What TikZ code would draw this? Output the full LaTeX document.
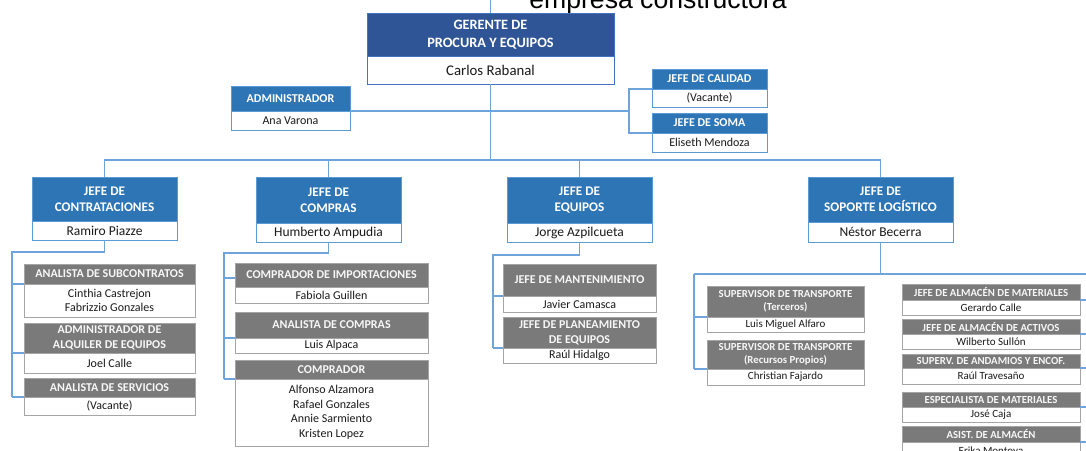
\documentclass[tikz,border=0pt]{standalone}
\usepackage{fontspec}
\setmainfont{Carlito}
\newfontfamily\titlefont{Liberation Sans}
\definecolor{gerfill}{HTML}{2F5597}
\definecolor{gerline}{HTML}{4472C4}
\definecolor{jefefill}{HTML}{2E75B6}
\definecolor{jefeline}{HTML}{5B9BD5}
\definecolor{grayfill}{HTML}{7A7A7A}
\definecolor{grayline}{HTML}{A5A5A5}
\definecolor{linkblue}{HTML}{6FA3DC}
\definecolor{ink}{HTML}{1A1A1A}
\tikzset{
  every node/.style={inner sep=0pt, outer sep=0pt, align=center},
  hd/.style 2 args={anchor=north west, minimum width=#1, minimum height=#2, line width=0.8pt},
  bd/.style 2 args={anchor=north, minimum width=#1, minimum height=#2, fill=white, line width=0.8pt, text=ink},
  ger/.style={fill=gerfill, draw=gerline, text=white, font=\bfseries\fontsize{14.3}{18}\selectfont},
  gerbody/.style={draw=gerline, font=\fontsize{14.8}{18}\selectfont},
  jefe/.style={fill=jefefill, draw=jefeline, text=white, font=\bfseries\fontsize{13.2}{16}\selectfont},
  jefebody/.style={draw=jefeline, font=\fontsize{13.5}{16}\selectfont},
  aux/.style={fill=jefefill, draw=jefeline, text=white, font=\bfseries\fontsize{12}{15}\selectfont},
  auxbody/.style={draw=jefeline, font=\fontsize{12}{15}\selectfont},
  cargo/.style={fill=grayfill, draw=grayline, text=white!94!gray},
  cargobody/.style={draw=grayline},
  fL/.style={font=\bfseries\fontsize{12}{15}\selectfont},
  nL/.style={font=\fontsize{12}{14.5}\selectfont},
  fS/.style={font=\bfseries\fontsize{10.8}{12.5}\selectfont},
  nS/.style={font=\fontsize{11}{13}\selectfont},
  wire/.style={draw=linkblue, line width=1.2pt},
}
\begin{document}
\begin{tikzpicture}[x=1pt, y=-1pt]
\useasboundingbox (0,0) rectangle (1086,450);
\clip (0,0) rectangle (1086,450);

% heading (partly cut at the top edge)
\node[font=\titlefont\fontsize{26.6}{30}\selectfont, anchor=base] (title) at (658,8) {empresa constructora};

% ---- top manager ----
\node[ger, hd={247}{43}] (gerH) at (367,13) {GERENTE DE\\PROCURA Y EQUIPOS};
\node[gerbody, bd={247}{28}] (gerB) at (gerH.south) {Carlos Rabanal};

% ---- staff positions ----
\node[aux, hd={119}{25}] (admH) at (231,86) {ADMINISTRADOR};
\node[auxbody, bd={119}{19}] (admB) at (admH.south) {Ana Varona};
\node[aux, hd={115}{20}] (calH) at (652,69) {JEFE DE CALIDAD};
\node[auxbody, bd={115}{18}] (calB) at (calH.south) {(Vacante)};
\node[aux, hd={115}{20}] (somaH) at (652,113) {JEFE DE SOMA};
\node[auxbody, bd={115}{19}] (somaB) at (somaH.south) {Eliseth Mendoza};

% ---- department heads ----
\node[jefe, hd={145}{44}] (contH) at (32,177) {JEFE DE\\CONTRATACIONES};
\node[jefebody, bd={145}{19}] (contB) at (contH.south) {Ramiro Piazze};
\node[jefe, hd={145}{46}] (compH) at (256,177) {JEFE DE\\COMPRAS};
\node[jefebody, bd={145}{19}] (compB) at (compH.south) {Humberto Ampudia};
\node[jefe, hd={145}{46}] (equH) at (507,177) {JEFE DE\\EQUIPOS};
\node[jefebody, bd={145}{19}] (equB) at (equH.south) {Jorge Azpilcueta};
\node[jefe, hd={145}{45}] (sopH) at (808,177) {JEFE DE\\SOPORTE LOGÍSTICO};
\node[jefebody, bd={145}{20}] (sopB) at (sopH.south) {Néstor Becerra};

% ---- contrataciones ----
\node[cargo, fL, hd={171}{20}] (subH) at (24,264) {ANALISTA DE SUBCONTRATOS};
\node[cargobody, nL, bd={171}{33}] (subB) at (subH.south) {Cinthia Castrejon\\Fabrizzio Gonzales};
\node[cargo, fL, hd={171}{30}] (alqH) at (24,323) {ADMINISTRADOR DE\\ALQUILER DE EQUIPOS};
\node[cargobody, nL, bd={171}{20}] (alqB) at (alqH.south) {Joel Calle};
\node[cargo, fL, hd={171}{19}] (serH) at (24,378) {ANALISTA DE SERVICIOS};
\node[cargobody, nL, bd={171}{18}] (serB) at (serH.south) {(Vacante)};

% ---- compras ----
\node[cargo, fL, hd={193}{24}] (impH) at (235,263) {COMPRADOR DE IMPORTACIONES};
\node[cargobody, nL, bd={193}{16}] (impB) at (impH.south) {Fabiola Guillen};
\node[cargo, fL, hd={193}{26}] (ancH) at (235,312) {ANALISTA DE COMPRAS};
\node[cargobody, nL, bd={193}{15}] (ancB) at (ancH.south) {Luis Alpaca};
\node[cargo, fL, hd={193}{19}] (ocH) at (235,360) {COMPRADOR};
\node[cargobody, nL, bd={193}{67}] (ocB) at (ocH.south) {Alfonso Alzamora\\Rafael Gonzales\\Annie Sarmiento\\Kristen Lopez};

% ---- equipos ----
\node[cargo, fL, hd={153}{32}] (mantH) at (503,264) {JEFE DE MANTENIMIENTO};
\node[cargobody, nL, bd={153}{16}] (mantB) at (mantH.south) {Javier Camasca};
\node[cargo, fL, hd={153}{31}] (planH) at (503,317) {JEFE DE PLANEAMIENTO\\DE EQUIPOS};
\node[cargobody, nL, bd={153}{15}] (planB) at (planH.south) {Raúl Hidalgo};

% ---- soporte logistico ----
\node[cargo, fS, hd={157}{31}] (st1H) at (707,286) {SUPERVISOR DE TRANSPORTE\\(Terceros)};
\node[cargobody, nS, bd={157}{15}] (st1B) at (st1H.south) {Luis Miguel Alfaro};
\node[cargo, fS, hd={157}{29}] (st2H) at (707,340) {SUPERVISOR DE TRANSPORTE\\(Recursos Propios)};
\node[cargobody, nS, bd={157}{16}] (st2B) at (st2H.south) {Christian Fajardo};

\node[cargo, fS, hd={178}{16}] (amH) at (902,284) {JEFE DE ALMACÉN DE MATERIALES};
\node[cargobody, nS, bd={178}{15}] (amB) at (amH.south) {Gerardo Calle};
\node[cargo, fS, hd={178}{15}] (aaH) at (902,319) {JEFE DE ALMACÉN DE ACTIVOS};
\node[cargobody, nS, bd={178}{15}] (aaB) at (aaH.south) {Wilberto Sullón};
\node[cargo, fS, hd={178}{14}] (anH) at (902,354) {SUPERV. DE ANDAMIOS Y ENCOF.};
\node[cargobody, nS, bd={178}{16}] (anB) at (anH.south) {Raúl Travesaño};
\node[cargo, fS, hd={178}{15}] (esH) at (902,392) {ESPECIALISTA DE MATERIALES};
\node[cargobody, nS, bd={178}{15}] (esB) at (esH.south) {José Caja};
\node[cargo, fS, hd={178}{16}] (asH) at (902,426) {ASIST. DE ALMACÉN};
\node[cargobody, nS, bd={178}{20}] (asB) at (asH.south) {Erika Montoya};

% ---- connectors ----
\coordinate (topend) at (490.5,0);
\coordinate (bus) at (490.5,160);
\draw[wire] (gerH.north) -- (topend);
\draw[wire] (gerB.south) -- (bus);
\draw[wire] (contH.north) |- (sopH.north |- bus) -- (sopH.north);
\draw[wire] (compH.north) -- (compH.north |- bus);
\draw[wire] (equH.north) -- (equH.north |- bus);

\coordinate (brk) at (629,111);
\draw[wire] (admH.south east) -- (brk);
\draw[wire] (calH.south west) -| (brk) |- (somaH.south west);

\coordinate (contS) at (12,252);
\draw[wire] (contB.south) |- (contS) -- (contS |- serH.south west);
\foreach \n in {subH,alqH,serH} \draw[wire] (contS |- \n.south west) -- (\n.south west);

\coordinate (compS) at (224,253);
\coordinate (impJ) at ([yshift=-3pt]impH.west);
\draw[wire] (compB.south) |- (compS) -- (compS |- ocH.south west);
\draw[wire] (compS |- impJ) -- (impJ);
\foreach \n in {ancH,ocH} \draw[wire] (compS |- \n.south west) -- (\n.south west);

\coordinate (equS) at (493,255);
\draw[wire] (equB.south) |- (equS) -- (equS |- planH.south west);
\foreach \n in {mantH,planH} \draw[wire] (equS |- \n.south west) -- (\n.south west);

\coordinate (sopS) at (694,274);
\coordinate (sopR) at (1095,274);
\draw[wire] (sopB.south) -- (sopB.south |- sopS);
\draw[wire] (sopS) -- (sopR);
\draw[wire] (sopS) -- (sopS |- st2H.south west);
\foreach \n in {st1H,st2H} \draw[wire] (sopS |- \n.south west) -- (\n.south west);
\draw[wire] (sopR) -- (sopR |- asH.south east);
\foreach \n in {amH,aaH,anH,esH,asH} \draw[wire] (sopR |- \n.south east) -- (\n.south east);
\end{tikzpicture}
\end{document}
